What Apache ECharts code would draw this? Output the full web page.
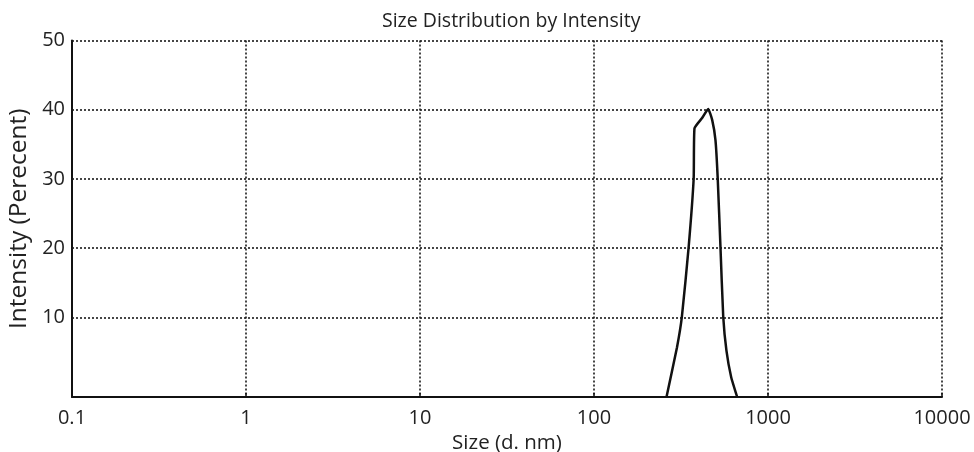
<!DOCTYPE html>
<html>
<head>
<meta charset="utf-8">
<script src="https://cdn.jsdelivr.net/npm/echarts@6/dist/echarts.min.js"></script>
<style>
html,body{margin:0;padding:0;background:#fff;}
#chart{width:974px;height:452px;}
</style>
</head>
<body>
<div id="chart"></div>
<script>
// Data
const sizes = [261, 300, 320, 350, 374, 378, 418, 453, 478, 499, 514, 533, 553, 577, 614, 665];
const intensity = [-1.5, 5.7, 10.1, 20.2, 30.1, 37.3, 38.8, 40.1, 38.5, 35.6, 30.1, 20.2, 10.1, 5.2, 1.4, -1.5];
const xTickLabels = ['0.1', '1', '10', '100', '1000', '10000'];
const yTicks = [10, 20, 30, 40, 50];

const FONT = 'Open Sans';
const dotted = { type: [2, 2], color: '#1a1a1a', width: 1.6 };

const chart = echarts.init(document.getElementById('chart'), null, { renderer: 'canvas' });
chart.setOption({
  animation: false,
  backgroundColor: '#fff',
  title: {
    text: 'Size Distribution by Intensity',
    left: 377,
    top: 6,
    textStyle: { fontFamily: FONT, fontSize: 19.5, fontWeight: 'normal', color: '#222' }
  },
  grid: { left: 72, right: 32, top: 40.5, bottom: 55, containLabel: false, outerBoundsMode: 'none' },
  xAxis: {
    type: 'log',
    logBase: 10,
    min: 0.1,
    max: 10000,
    name: 'Size (d. nm)',
    nameLocation: 'middle',
    nameGap: 35,
    nameTextStyle: { fontFamily: FONT, fontSize: 20.5, color: '#222' },
    axisLine: { show: true, onZero: false, lineStyle: { color: '#111', width: 2 } },
    axisTick: { show: true, inside: true, length: 4, lineStyle: { color: '#111', width: 1.5 } },
    minorTick: { show: false },
    axisLabel: {
      fontFamily: FONT, fontSize: 20, color: '#222', margin: 11,
      formatter: function (v) { return xTickLabels[Math.round(Math.log10(v)) + 1]; }
    },
    splitLine: { show: true, lineStyle: dotted }
  },
  yAxis: {
    type: 'value',
    min: -1.5,
    max: 50,
    name: 'Intensity (Perecent)',
    nameLocation: 'middle',
    nameGap: 39,
    nameTextStyle: { fontFamily: FONT, fontSize: 24.5, color: '#222' },
    axisLine: { show: true, onZero: false, lineStyle: { color: '#111', width: 2 } },
    axisTick: { show: false },
    axisLabel: {
      fontFamily: FONT, fontSize: 20, color: '#222', margin: 7,
      customValues: yTicks,
      formatter: function (v) { return yTicks.indexOf(v) >= 0 ? String(v) : ''; }
    },
    splitLine: { show: false }
  },
  series: [{
    type: 'line',
    data: sizes.map((s, i) => [s, intensity[i]]),
    showSymbol: false,
    smooth: 0.15,
    lineStyle: { color: '#111', width: 2.5 },
    z: 5,
    markLine: {
      silent: true,
      symbol: 'none',
      label: { show: false },
      lineStyle: dotted,
      data: yTicks.map(v => ({ yAxis: v }))
    }
  }]
});
</script>
</body>
</html>
